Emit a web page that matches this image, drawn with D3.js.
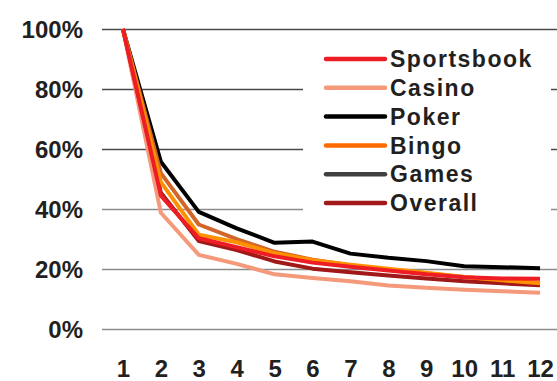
<!DOCTYPE html>
<html>
<head>
<meta charset="utf-8">
<script src="https://cdn.jsdelivr.net/npm/d3@7"></script>
<style>
  html, body { margin: 0; padding: 0; background: #fff; }
  svg { display: block; }
  text { font-family: "Liberation Sans", Arial, Helvetica, sans-serif; font-weight: bold; fill: #231f20; }
</style>
</head>
<body>
<script>
const categories = ["1","2","3","4","5","6","7","8","9","10","11","12"];
const seriesNames = ["Sportsbook","Casino","Poker","Bingo","Games","Overall"];
const sportsbook = [100, 44.5, 30.3, 27.3, 24.3, 22.2, 20.8, 19.6, 18.3, 17.3, 16.9, 16.8];
const casino     = [100, 38.8, 24.8, 21.8, 18.3, 17.1, 16.0, 14.6, 13.8, 13.2, 12.7, 12.2];
const poker      = [100, 55.8, 39.1, 33.6, 28.8, 29.2, 25.2, 23.8, 22.7, 21.0, 20.7, 20.3];
const bingo      = [100, 49.0, 31.5, 29.0, 25.3, 23.0, 21.5, 20.2, 18.8, 17.4, 16.3, 15.3];
const games      = [100, 52.0, 34.9, 30.0, 25.8, 23.2, 21.3, 19.8, 18.6, 17.4, 16.3, 15.4];
const overall    = [100, 45.5, 29.4, 26.4, 22.6, 20.2, 19.0, 17.9, 16.9, 16.0, 15.3, 14.7];
const yTicks = [0, 20, 40, 60, 80, 100];

const lineColors   = {Sportsbook:"#ee1c25", Casino:"#f4997a", Poker:"#000000", Bingo:"#ff9000", Games:"#d2652a", Overall:"#a01818"};
const legendColors = {Sportsbook:"#ee1c25", Casino:"#f4997a", Poker:"#000000", Bingo:"#ff6a00", Games:"#404040", Overall:"#a01818"};
const valuesByName = {Sportsbook:sportsbook, Casino:casino, Poker:poker, Bingo:bingo, Games:games, Overall:overall};
const drawOrder = ["Casino","Poker","Games","Overall","Bingo","Sportsbook"];

const W = 557, H = 381;
const svg = d3.select("body").append("svg").attr("width", W).attr("height", H);

const x = d3.scalePoint().domain(categories).range([104, 559]).padding(0.5);
const y = d3.scaleLinear().domain([0, 100]).range([329.3, 29]);

// gridlines
const grid = svg.append("g");
grid.selectAll("line").data(yTicks).join("line")
  .attr("x1", 102).attr("x2", W)
  .attr("y1", d => Math.round(y(d)) + 0.5).attr("y2", d => Math.round(y(d)) + 0.5)
  .attr("stroke", d => d >= 60 ? "#4a4a4a" : "#8c8c8c")
  .attr("stroke-width", 1.3);

// y labels
const yAxis = d3.axisLeft(y).tickValues(yTicks).tickFormat(d => d + "%").tickSize(0).tickPadding(0);
const yg = svg.append("g").attr("transform", "translate(83,0)").call(yAxis);
yg.select(".domain").remove();
yg.selectAll("text").attr("font-size", 24).attr("font-family", null).attr("fill", "#231f20").attr("dy", "0.35em");

// x labels
const xAxis = d3.axisBottom(x).tickSize(0).tickPadding(0);
const xg = svg.append("g").attr("transform", "translate(0,359)").call(xAxis);
xg.select(".domain").remove();
xg.selectAll("text").attr("font-size", 24).attr("font-family", null).attr("fill", "#231f20").attr("dy", "0.74em");

// lines
const line = d3.line().x((d, i) => x(categories[i])).y(d => y(d));
svg.append("g").selectAll("path").data(drawOrder).join("path")
  .attr("d", n => line(valuesByName[n]))
  .attr("fill", "none")
  .attr("stroke", n => lineColors[n])
  .attr("stroke-width", 4)
  .attr("stroke-linejoin", "round");

// legend
const lg = svg.append("g");
lg.append("rect").attr("x", 303).attr("y", 42).attr("width", 248).attr("height", 176).attr("fill", "#fff");
const rowY = d3.scalePoint().domain(seriesNames).range([59, 203]);
const rows = lg.selectAll("g.row").data(seriesNames).join("g").attr("class", "row")
  .attr("transform", n => `translate(0,${rowY(n)})`);
rows.append("line").attr("x1", 326).attr("x2", 385).attr("y1", 0).attr("y2", 0)
  .attr("stroke", n => legendColors[n]).attr("stroke-width", 4.5).attr("stroke-linecap", "round");
rows.append("text").attr("x", 390).attr("y", 0).attr("dy", "0.36em")
  .attr("font-size", 23).attr("letter-spacing", "1.5px").text(n => n);
</script>
</body>
</html>
